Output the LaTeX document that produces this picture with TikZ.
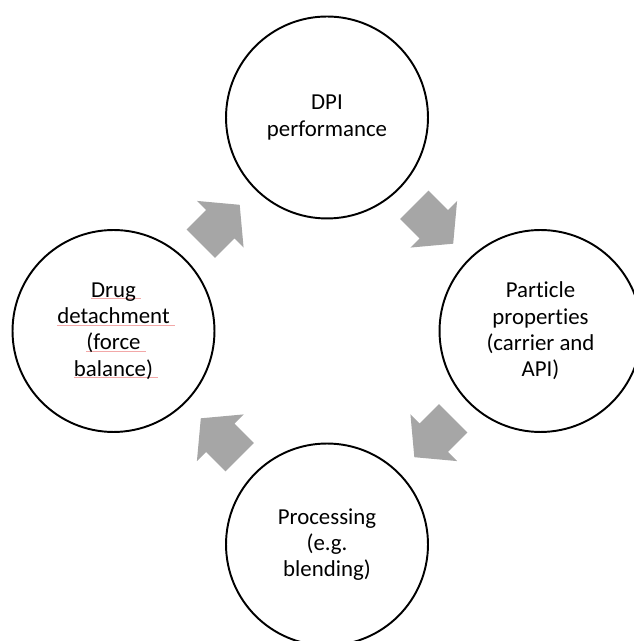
\documentclass[tikz,border=0pt]{standalone}
\usepackage{fontspec}
\setmainfont[Ligatures=NoCommon]{Carlito}
\usetikzlibrary{positioning,calc}

\definecolor{arrowgray}{RGB}{166,166,166}
\definecolor{spellred}{RGB}{242,168,168}
% thin red mark under a word, running on past its trailing space
\newcommand{\spellmark}[1]{\leavevmode\setbox0\hbox{#1\ }\rlap{\color{spellred}\rule[-1pt]{\wd0}{0.4pt}}#1}

\begin{document}
\begin{tikzpicture}[x=0.02cm, y=0.02cm,
  stage/.style={circle, draw=black, line width=1.1pt, minimum size=4.04cm,
    inner sep=0pt, align=center, font=\fontsize{13}{15}\selectfont}]
  \useasboundingbox (0,0) rectangle (634,641);
  \def\cx{327} % centre of the cycle
  \def\cy{310}
  \def\d{213.5} % distance from the centre to each circle
  % the four stages
  \node[stage] (dpi) at (\cx,\cy+\d) {DPI\\performance};
  \node[stage] (particle) at (\cx+\d,\cy) {Particle\\properties\\(carrier and\\API)};
  \node[stage] (processing) at (\cx,\cy-\d) {Processing\\(e.g.\\blending)};
  \node[stage] (drug) at (\cx-\d,\cy) {\spellmark{Drug}\\\spellmark{detachment}\\\spellmark{(force}\\\spellmark{balance)}};
  % block arrows half way between the circles
  \foreach \a/\b/\ang in {dpi/particle/-45, particle/processing/-135, processing/drug/135, drug/dpi/45} {
    \fill[arrowgray, shift={($(\a)!0.5!(\b)$)}, rotate=\ang]
      (-27.5,-20) -- (0,-20) -- (0,-33) -- (27.5,0) -- (0,33) -- (0,20) -- (-27.5,20) -- cycle;
  }
\end{tikzpicture}
\end{document}
